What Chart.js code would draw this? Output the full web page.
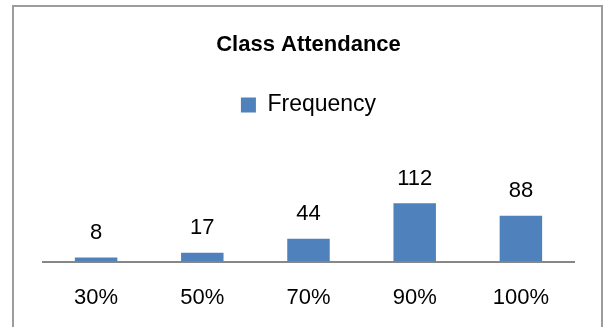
<!DOCTYPE html>
<html>
<head>
<meta charset="utf-8">
<script src="https://cdn.jsdelivr.net/npm/chart.js@4.4.0/dist/chart.umd.min.js"></script>
<style>
  html, body { margin: 0; padding: 0; background: #ffffff; }
  #wrap { position: relative; width: 605px; height: 327px; overflow: hidden; }
  #frame { position: absolute; left: 12px; top: 5px; width: 591px; height: 340px; border: 2px solid #9c9c9c; box-sizing: border-box; }
  canvas { position: absolute; left: 0; top: 0; }
</style>
</head>
<body>
<div id="wrap">
  <div id="frame"></div>
  <canvas id="c" width="605" height="334"></canvas>
</div>
<script>
const categories = ["30%", "50%", "70%", "90%", "100%"];
const seriesName = "Frequency";
const frequency = [8, 17, 44, 112, 88];
const chartTitle = "Class Attendance";

Chart.defaults.font.family = "'Liberation Sans', Arial, sans-serif";
Chart.defaults.color = "#000000";

const valueLabels = {
  id: 'valueLabels',
  afterDatasetsDraw(chart) {
    const ctx = chart.ctx;
    ctx.save();
    ctx.font = "22px 'Liberation Sans', Arial, sans-serif";
    ctx.fillStyle = "#000000";
    ctx.textAlign = "center";
    ctx.textBaseline = "alphabetic";
    const meta = chart.getDatasetMeta(0);
    meta.data.forEach((bar, i) => {
      ctx.fillText(String(chart.data.datasets[0].data[i]), bar.x, bar.y - 18.5);
    });
    ctx.restore();
  }
};

new Chart(document.getElementById('c'), {
  type: 'bar',
  data: {
    labels: categories,
    datasets: [{
      label: seriesName,
      data: frequency,
      backgroundColor: '#4F81BD',
      borderWidth: 0,
      barPercentage: 0.4,
      categoryPercentage: 1.0
    }]
  },
  options: {
    responsive: false,
    animation: false,
    events: [],
    layout: { padding: { left: 43, right: 31, top: 0, bottom: 0 } },
    plugins: {
      title: {
        display: true,
        text: chartTitle,
        font: { size: 22, weight: 'bold' },
        color: '#000000',
        padding: { top: 32, bottom: 25 }
      },
      legend: {
        display: true,
        position: 'top',
        labels: {
          boxWidth: 15,
          boxHeight: 15,
          font: { size: 23 },
          color: '#000000',
          padding: 10
        }
      },
      tooltip: { enabled: false }
    },
    scales: {
      x: {
        grid: { display: false, drawTicks: false, tickLength: 0 },
        border: { display: true, color: '#878787', width: 2 },
        ticks: { font: { size: 22 }, color: '#000000', padding: 23 }
      },
      y: {
        display: false,
        min: 0,
        max: 259
      }
    }
  },
  plugins: [valueLabels]
});
</script>
</body>
</html>
